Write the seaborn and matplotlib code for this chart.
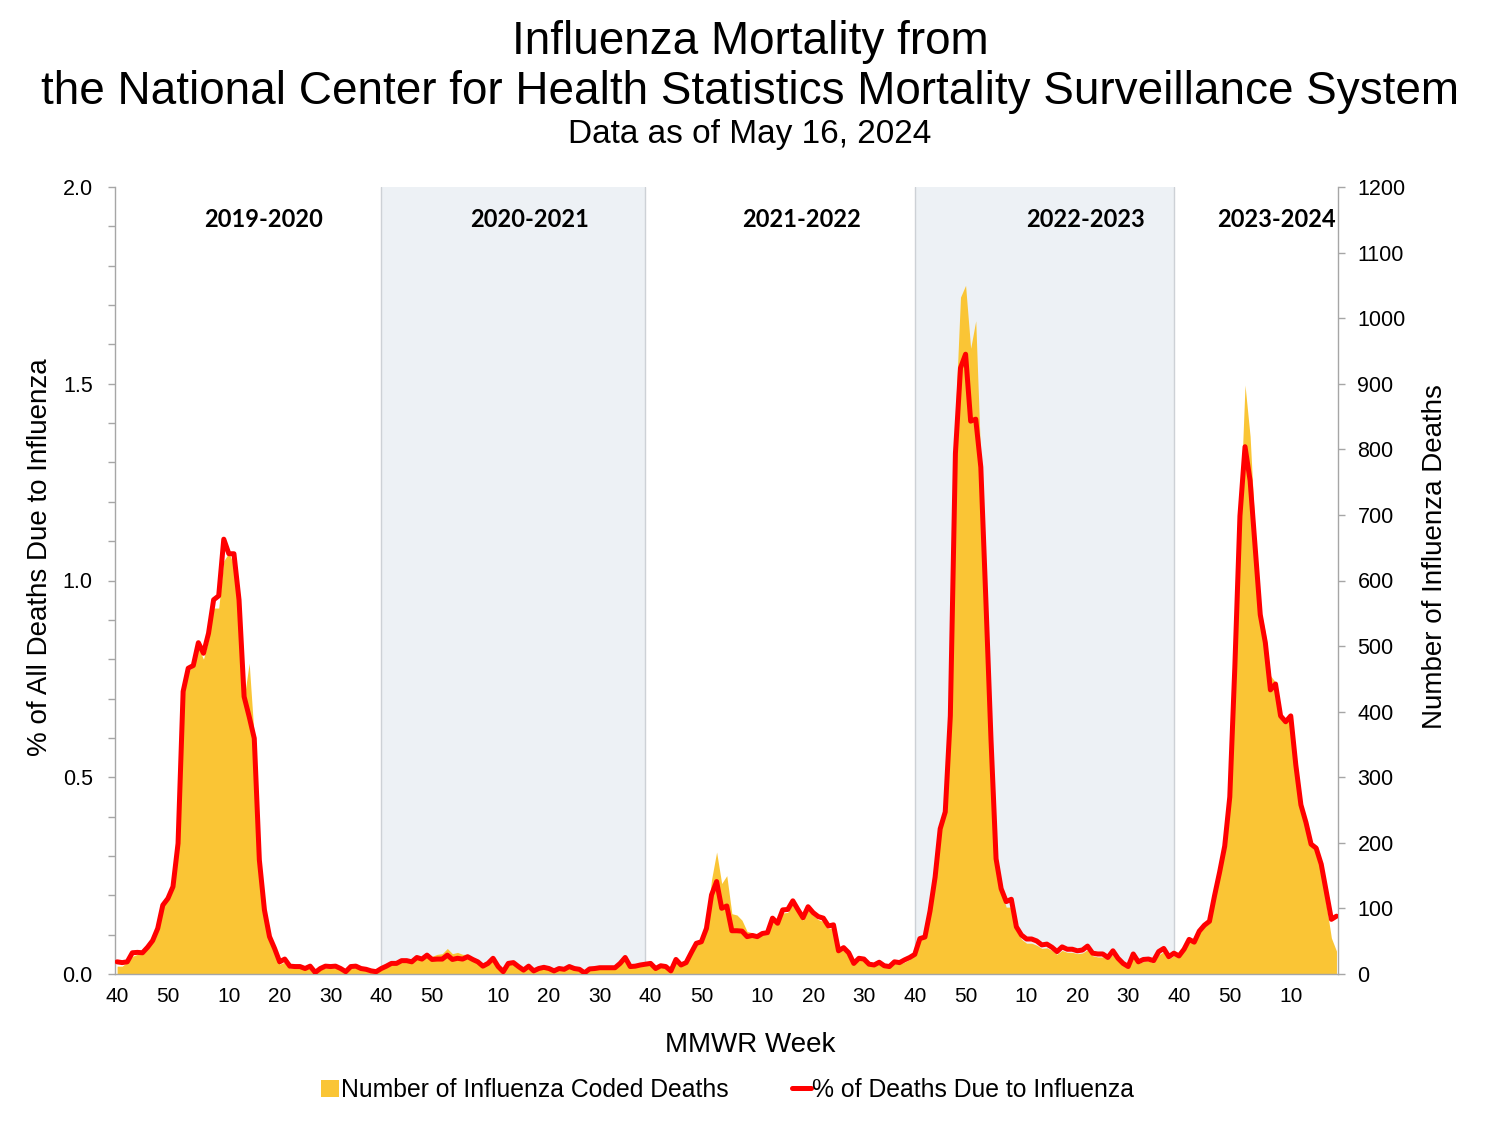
import matplotlib
matplotlib.use("Agg")
import matplotlib.pyplot as plt
from matplotlib.lines import Line2D
from matplotlib.patches import Patch
from matplotlib.ticker import MultipleLocator, FormatStrFormatter
import pandas as pd
import seaborn as sns

# ===================================
# Data
# ===================================

seasons = ["2019-2020", "2020-2021", "2021-2022", "2022-2023", "2023-2024"]
season_weeks = [52, 53, 52, 52, 32]  # 2020 had a week 53, last season runs to week 19

# % of deaths due to influenza (left axis)
pct_2019_20 = [0.031, 0.029, 0.031, 0.054, 0.055, 0.054, 0.068, 0.085, 0.116, 0.175,
               0.192, 0.222, 0.332, 0.718, 0.777, 0.784, 0.842, 0.815, 0.866, 0.951,
               0.961, 1.105, 1.068, 1.068, 0.951, 0.705, 0.654, 0.599, 0.290, 0.163,
               0.095, 0.065, 0.031, 0.038, 0.020, 0.019, 0.019, 0.014, 0.020, 0.004,
               0.014, 0.020, 0.019, 0.020, 0.014, 0.006, 0.019, 0.020, 0.014, 0.012,
               0.008, 0.006]
pct_2020_21 = [0.014, 0.020, 0.027, 0.027, 0.034, 0.034, 0.031, 0.042, 0.038, 0.048,
               0.037, 0.038, 0.038, 0.048, 0.037, 0.040, 0.038, 0.044, 0.037, 0.031,
               0.020, 0.027, 0.040, 0.019, 0.006, 0.027, 0.029, 0.019, 0.010, 0.020,
               0.008, 0.014, 0.017, 0.014, 0.008, 0.014, 0.012, 0.019, 0.014, 0.012,
               0.003, 0.013, 0.014, 0.016, 0.016, 0.016, 0.016, 0.027, 0.042, 0.019,
               0.020, 0.023, 0.025]
pct_2021_22 = [0.027, 0.014, 0.021, 0.019, 0.008, 0.037, 0.023, 0.029, 0.054, 0.078,
               0.082, 0.116, 0.201, 0.235, 0.167, 0.173, 0.110, 0.110, 0.109, 0.095,
               0.098, 0.095, 0.103, 0.105, 0.142, 0.129, 0.163, 0.164, 0.186, 0.164,
               0.143, 0.171, 0.156, 0.146, 0.142, 0.122, 0.125, 0.059, 0.067, 0.054,
               0.027, 0.040, 0.038, 0.025, 0.023, 0.030, 0.021, 0.019, 0.031, 0.029,
               0.036, 0.042]
pct_2022_23 = [0.050, 0.090, 0.094, 0.160, 0.246, 0.369, 0.412, 0.656, 1.323, 1.540,
               1.575, 1.405, 1.410, 1.288, 0.948, 0.597, 0.293, 0.217, 0.184, 0.190,
               0.120, 0.099, 0.089, 0.089, 0.084, 0.074, 0.076, 0.068, 0.057, 0.069,
               0.063, 0.063, 0.059, 0.061, 0.071, 0.053, 0.051, 0.051, 0.042, 0.059,
               0.040, 0.027, 0.019, 0.051, 0.031, 0.037, 0.038, 0.034, 0.057, 0.065,
               0.044, 0.053]
pct_2023_24 = [0.046, 0.063, 0.088, 0.081, 0.109, 0.124, 0.134, 0.199, 0.259, 0.325,
               0.450, 0.782, 1.164, 1.340, 1.254, 1.083, 0.913, 0.842, 0.722, 0.737,
               0.656, 0.641, 0.656, 0.531, 0.430, 0.385, 0.330, 0.320, 0.279, 0.209,
               0.139, 0.147]

# number of influenza coded deaths (right axis)
deaths_2019_20 = [12, 12, 18, 27, 30, 30, 39, 48, 66, 102,
                  114, 132, 198, 420, 462, 468, 498, 480, 510, 558,
                  558, 630, 642, 624, 570, 420, 474, 360, 168, 90,
                  48, 36, 15, 18, 9, 9, 9, 7, 9, 2,
                  7, 9, 9, 10, 7, 3, 9, 10, 7, 6,
                  4, 3]
deaths_2020_21 = [7, 11, 15, 16, 20, 21, 20, 27, 25, 31,
                  27, 30, 31, 39, 31, 33, 30, 30, 25, 21,
                  14, 17, 23, 12, 5, 16, 16, 11, 6, 11,
                  5, 8, 9, 8, 5, 8, 7, 10, 8, 7,
                  2, 7, 8, 8, 8, 8, 9, 15, 23, 10,
                  11, 12, 13]
deaths_2021_22 = [15, 8, 11, 10, 5, 19, 13, 16, 30, 48,
                  54, 72, 144, 186, 138, 150, 92, 90, 82, 65,
                  63, 60, 60, 60, 81, 75, 93, 94, 107, 94,
                  82, 97, 89, 83, 80, 69, 71, 33, 37, 30,
                  15, 22, 20, 13, 12, 16, 11, 10, 16, 15,
                  18, 22]
deaths_2022_23 = [29, 53, 55, 93, 144, 216, 246, 408, 852, 1032,
                  1050, 954, 996, 780, 588, 360, 174, 126, 102, 102,
                  66, 53, 47, 47, 44, 39, 40, 36, 30, 36,
                  33, 33, 31, 32, 37, 28, 26, 26, 22, 30,
                  20, 14, 10, 26, 16, 19, 20, 17, 29, 34,
                  23, 28]
deaths_2023_24 = [26, 35, 50, 47, 63, 72, 78, 115, 150, 190,
                  265, 465, 700, 898, 820, 670, 560, 520, 455, 445,
                  395, 385, 385, 310, 255, 230, 195, 190, 155, 105,
                  55, 35]

pct = pct_2019_20 + pct_2020_21 + pct_2021_22 + pct_2022_23 + pct_2023_24
deaths = deaths_2019_20 + deaths_2020_21 + deaths_2021_22 + deaths_2022_23 + deaths_2023_24

# MMWR week numbers for every point
weeks = []
for n in season_weeks:
    last = 53 if n == 53 else 52
    wk = list(range(40, last + 1)) + list(range(1, 40))
    weeks += wk[:n]

df = pd.DataFrame({"idx": range(len(weeks)), "week": weeks, "pct": pct, "deaths": deaths})

# ===================================
# Style
# ===================================

sns.set_theme(style="white")
plt.rcParams["font.family"] = ["Liberation Sans", "DejaVu Sans"]
plt.rcParams["text.color"] = "black"
plt.rcParams["xtick.labelcolor"] = "black"
plt.rcParams["ytick.labelcolor"] = "black"

AXIS_GREY = "#A6A6A6"
GOLD = "#FAC535"
SHADE = "#EDF1F5"

fig = plt.figure(figsize=(15, 11.25), dpi=100)
ax = fig.add_axes([0.0767, 0.1342, 0.8153, 0.6996])
ax2 = ax.twinx()
ax.set_zorder(ax2.get_zorder() + 1)
ax.patch.set_visible(False)

# shaded seasons
start = 0
for i, n in enumerate(season_weeks):
    if i % 2 == 1:
        ax2.axvspan(start, start + n - 1, color=SHADE, lw=0, zorder=0)
        for edge in (start, start + n - 1):
            ax2.axvline(edge, color="#CDD1D6", lw=1, zorder=0.5)
    start += n

# deaths area
ax2.fill_between(df["idx"], df["deaths"], color=GOLD, lw=0, zorder=2)

# % line
sns.lineplot(data=df, x="idx", y="pct", ax=ax, color="#FF0000",
             linewidth=3.6, legend=False, zorder=3)

# ===================================
# Axes
# ===================================

ax.set_xlim(-0.4, len(df) - 0.7)
ax.set_ylim(0, 2.0)
ax2.set_ylim(0, 1200)

tick_rows = df[df["week"].isin([40, 50, 10, 20, 30])]
ax.set_xticks(tick_rows["idx"])
ax.set_xticklabels([str(w) for w in tick_rows["week"]])
ax.tick_params(axis="x", length=0, pad=9, labelsize=15)

ax.yaxis.set_major_locator(MultipleLocator(0.5))
ax.yaxis.set_minor_locator(MultipleLocator(0.1))
ax.yaxis.set_major_formatter(FormatStrFormatter("%.1f"))
ax.tick_params(axis="y", which="both", left=True, length=5, width=1,
               color=AXIS_GREY, labelsize=15.5, pad=11)
ax2.yaxis.set_major_locator(MultipleLocator(100))
ax2.tick_params(axis="y", right=True, length=5, width=1,
                color=AXIS_GREY, labelsize=15.5, pad=9)

ax.set_xlabel("")
ax.set_ylabel("")
ax2.set_ylabel("")

for a in (ax, ax2):
    for s in a.spines.values():
        s.set_visible(False)
ax.spines["left"].set_visible(True)
ax.spines["bottom"].set_visible(True)
ax2.spines["right"].set_visible(True)
for s in (ax.spines["left"], ax.spines["bottom"], ax2.spines["right"]):
    s.set_color(AXIS_GREY)
    s.set_linewidth(1)

# season labels
label_x = [28.9, 81.1, 134.8, 190.7, 228.1]
for name, lx in zip(seasons, label_x):
    ax.text(lx, 0.959, name, transform=ax.get_xaxis_transform(),
            ha="center", va="center", fontsize=17, fontweight="bold",
            color="black", family=["Lato", "DejaVu Sans"])

# ===================================
# Titles, labels, legend
# ===================================

fig.text(0.5, 1 - 42 / 1125, "Influenza Mortality from", ha="center", va="center", fontsize=33)
fig.text(0.5, 1 - 92 / 1125,
         "the National Center for Health Statistics Mortality Surveillance System",
         ha="center", va="center", fontsize=33)
fig.text(0.5, 1 - 134 / 1125, "Data as of May 16, 2024", ha="center", va="center", fontsize=24)

fig.text(0.5, 1 - 1045 / 1125, "MMWR Week", ha="center", va="center", fontsize=20)
fig.text(40 / 1500, 1 - 557 / 1125, "% of All Deaths Due to Influenza",
         rotation=90, ha="center", va="center", fontsize=20)
fig.text(1435 / 1500, 1 - 557 / 1125, "Number of Influenza Deaths",
         rotation=90, ha="center", va="center", fontsize=20)

handles = [Patch(facecolor=GOLD, edgecolor="none"),
           Line2D([0], [0], color="#FF0000", lw=3.6)]
fig.legend(handles, ["Number of Influenza Coded Deaths", "% of Deaths Due to Influenza"],
           loc="center", bbox_to_anchor=(0.485, 1 - 1090 / 1125), ncol=2,
           frameon=False, fontsize=17.8, handlelength=0.75, handleheight=0.7,
           handletextpad=0.05, columnspacing=2.6)

fig.savefig("out.png", dpi=100)
